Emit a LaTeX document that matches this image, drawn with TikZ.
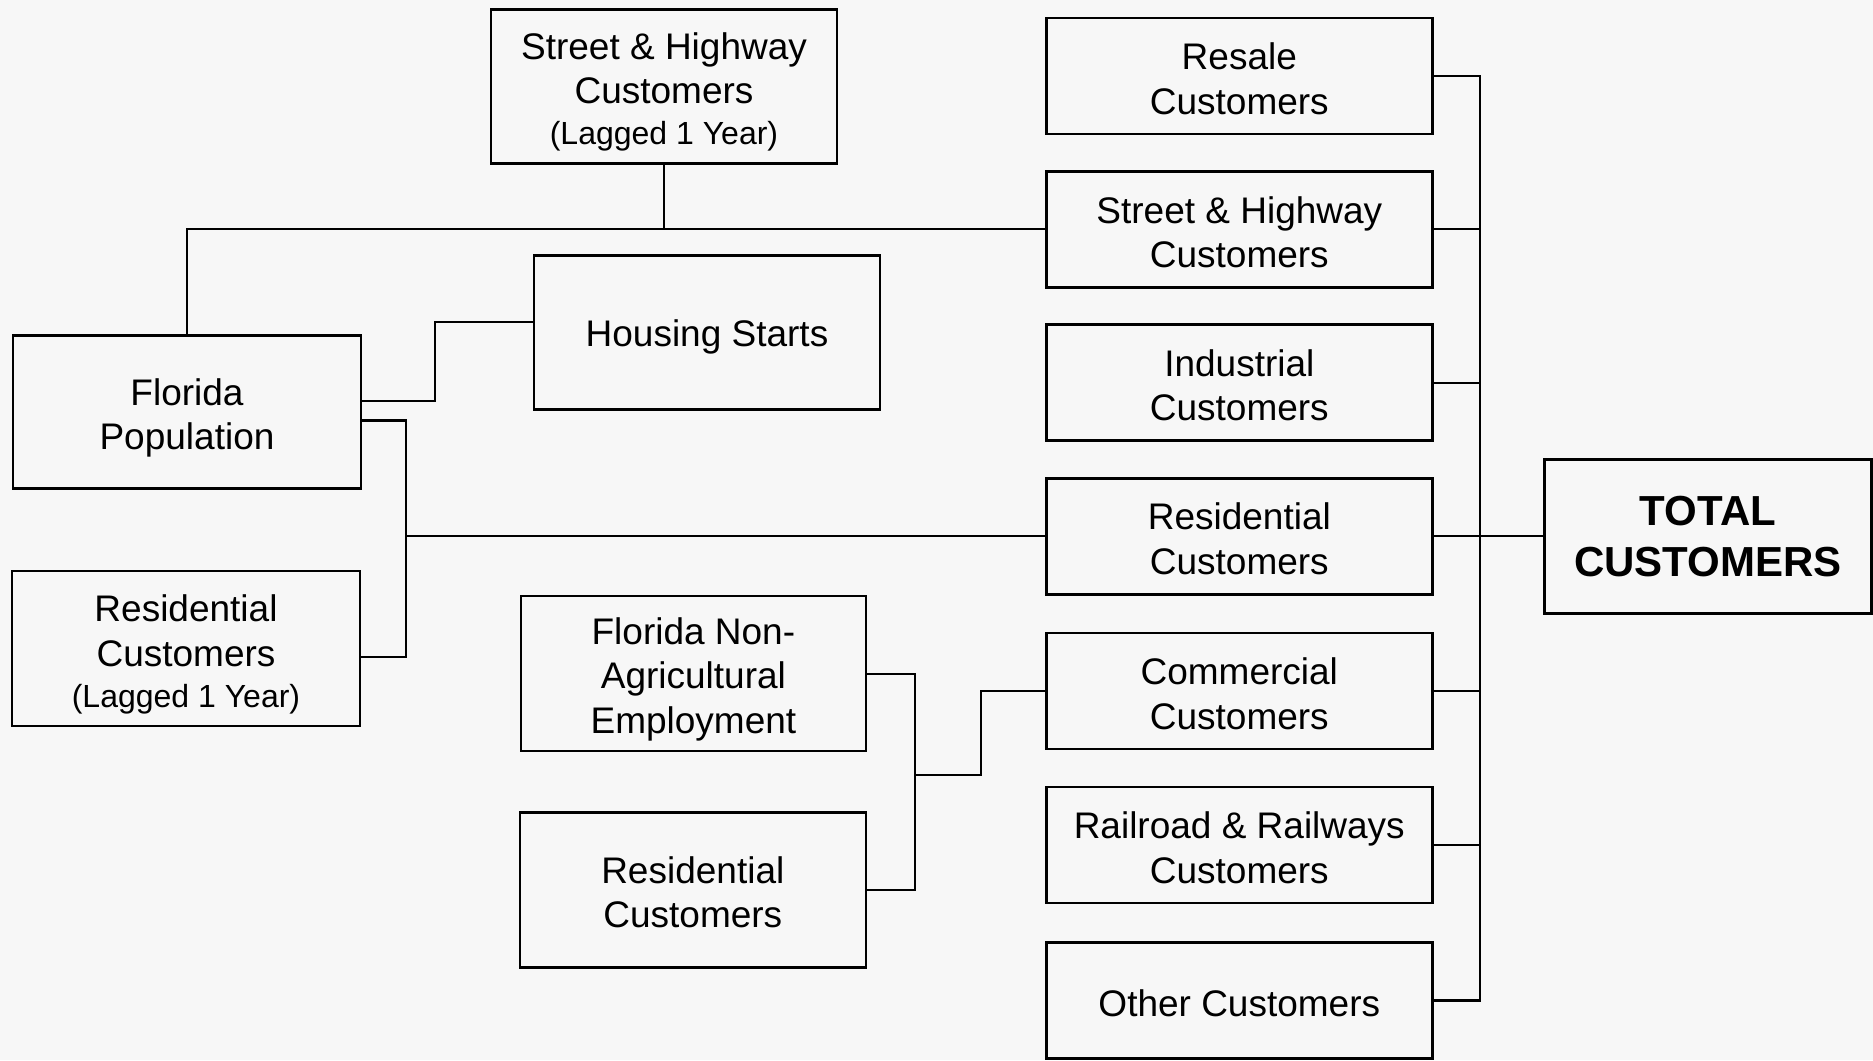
\documentclass[tikz,border=0pt]{standalone}
\usepackage{fontspec}
\setmainfont{Liberation Sans}
\definecolor{bg}{RGB}{247,247,247}
% box text: centred lines, lowered by #1 pt without changing the reported size
\newcommand\boxtxt[2][7]{\raisebox{-#1pt}[\height][\depth]{\begin{tabular}{@{}c@{}}#2\end{tabular}}}
\newcommand\lagtxt{{\fontsize{32}{42}\selectfont (Lagged 1 Year)}}
\begin{document}
\begin{tikzpicture}[x=1pt,y=1pt,
  box/.style={draw=black, line width=2.6pt, rectangle, inner sep=0pt,
    minimum width=346pt, minimum height=154pt,
    font=\fontsize{37}{44.5}\selectfont},
  rbox/.style={box, minimum width=386pt, minimum height=116pt},
  conn/.style={draw=black, line width=2.2pt, line cap=rect}]
\fill[bg] (0,0) rectangle (1873,1060);
\useasboundingbox (0,0) rectangle (1873,1060);
% right column
\node[rbox] (Resale) at (1239.3,984.1) {\boxtxt{Resale\\Customers}};
\node[rbox] (SHC) at (1239.3,830.6) {\boxtxt{Street \& Highway\\Customers}};
\node[rbox] (Ind) at (1239.3,677.2) {\boxtxt{Industrial\\Customers}};
\node[rbox] (Res) at (1239.3,523.7) {\boxtxt{Residential\\Customers}};
\node[rbox] (Comm) at (1239.3,369) {\boxtxt{Commercial\\Customers}};
\node[rbox] (Rail) at (1239.3,215) {\boxtxt{Railroad \& Railways\\Customers}};
\node[rbox] (Other) at (1239.3,59.6) {\boxtxt{Other Customers}};
\node[box, minimum width=327pt, minimum height=154pt, align=center,
  font=\fontsize{42}{51}\selectfont\bfseries] (Total) at (1708,523.7) {TOTAL\\CUSTOMERS};
% left side
\node[box] (SHlag) at (664,973.4) {\boxtxt[6.6]{Street \& Highway\\Customers\\[-3.5pt]\lagtxt}};
\node[box, minimum width=348pt, minimum height=153pt] (FP) at (187,648) {\boxtxt[6.5]{Florida\\Population}};
\node[box] (HS) at (707,727.3) {\boxtxt[5]{Housing Starts}};
\node[box, minimum width=348pt, minimum height=155pt] (ResLag) at (186,411.4) {\boxtxt[7]{Residential\\Customers\\[-3.5pt]\lagtxt}};
\node[box, minimum width=345pt, minimum height=155pt] (FLNA) at (693.4,386.3) {\boxtxt[6]{Florida Non-\\Agricultural\\Employment}};
\node[box, minimum height=155pt] (ResLow) at (692.8,170) {\boxtxt[6.5]{Residential\\Customers}};
% junction coordinates
\coordinate (busL) at (406,0);
\coordinate (busM) at (915,0);
\coordinate (jM) at (915,285);
\coordinate (busR) at (1480,0);
% connectors
\draw[conn] (SHC.west) -| (FP.north);
\draw[conn] (SHlag.south) -- (SHlag.south |- SHC.west);
\draw[conn] ([yshift=11pt]FP.east) -- ++(73,0) |- ([yshift=11pt]HS.west);
\draw[conn] ([yshift=-8.5pt]FP.east) -- ([yshift=-8.5pt]FP.east -| busL) |- ([yshift=-8.5pt]ResLag.east);
\draw[conn] (Res.west) -- (Res.west -| busL);
\draw[conn] (FLNA.east) -- (FLNA.east -| busM) |- (ResLow.east);
\draw[conn] (jM) -- ++(66,0) |- (Comm.west);
\draw[conn] (Resale.east) -- (Resale.east -| busR) -- (busR |- Other.east) -- (Other.east);
\draw[conn] (SHC.east) -- (SHC.east -| busR);
\draw[conn] (Ind.east) -- (Ind.east -| busR);
\draw[conn] (Res.east) -- (Total.west);
\draw[conn] (Comm.east) -- (Comm.east -| busR);
\draw[conn] (Rail.east) -- (Rail.east -| busR);
\end{tikzpicture}
\end{document}
